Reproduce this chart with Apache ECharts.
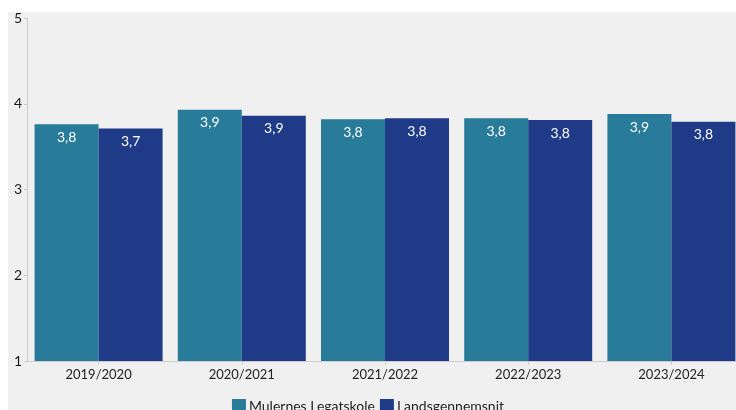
<!DOCTYPE html>
<html>
<head>
<meta charset="utf-8">
<script src="https://cdn.jsdelivr.net/npm/echarts@6/dist/echarts.min.js"></script>
<style>
  html, body { margin: 0; padding: 0; background: #fff; }
  #echarts { width: 736px; height: 410px; }
</style>
</head>
<body>
<div id="echarts"></div>
<script>
var years = ['2019/2020', '2020/2021', '2021/2022', '2022/2023', '2023/2024'];
var skole = [3.76, 3.93, 3.82, 3.83, 3.88];
var lands = [3.71, 3.86, 3.83, 3.81, 3.79];
var yTicks = [1, 2, 3, 4, 5];

var myChart = echarts.init(document.getElementById('echarts'));

function komma(p) {
    return p.value.toFixed(1).replace('.', ',');
}

var barLabel = {
    show: true,
    position: 'insideTop',
    distance: 6,
    color: '#fff',
    fontFamily: 'Lato',
    fontSize: 14,
    formatter: komma
};

option = {
    backgroundColor: '#fff',
    animation: false,
    graphic: [{
        type: 'rect',
        left: 8,
        top: 12,
        z: -10,
        shape: { width: 728, height: 398 },
        style: { fill: '#f0f0f0' }
    }],
    grid: {
        left: 27,
        width: 716,
        top: 18,
        bottom: 49,
        outerBoundsMode: 'none',
        containLabel: false
    },
    legend: {
        top: 394,
        left: 'center',
        itemWidth: 14,
        itemHeight: 14,
        itemGap: 5,
        icon: 'rect',
        textStyle: { fontFamily: 'Lato', fontSize: 14, color: '#222', padding: [0, 0, 0, -2] },
        data: ['Mulernes Legatskole', 'Landsgennemsnit']
    },
    xAxis: {
        type: 'category',
        data: years,
        axisLine: { show: true, lineStyle: { color: '#ccc' } },
        axisTick: { show: true, alignWithLabel: true, length: 4, lineStyle: { color: '#ccc' } },
        axisLabel: { color: '#222', fontFamily: 'Lato', fontSize: 13, margin: 7 }
    },
    yAxis: {
        type: 'value',
        min: yTicks[0],
        max: yTicks[yTicks.length - 1],
        interval: 1,
        axisLine: { show: true, lineStyle: { color: '#ccc' } },
        axisTick: { show: true, length: 3, lineStyle: { color: '#ccc' } },
        splitLine: { show: false },
        axisLabel: { color: '#1a1a1a', fontFamily: 'Lato', fontSize: 14, margin: 5 }
    },
    series: [
        {
            name: 'Mulernes Legatskole',
            type: 'bar',
            barWidth: 64,
            barGap: 0,
            itemStyle: { color: '#297b9a' },
            label: barLabel,
            data: skole
        },
        {
            name: 'Landsgennemsnit',
            type: 'bar',
            barWidth: 64,
            barGap: 0,
            itemStyle: { color: '#1f3b87' },
            label: barLabel,
            data: lands
        }
    ]
};
myChart.setOption(option);
</script>
</body>
</html>
